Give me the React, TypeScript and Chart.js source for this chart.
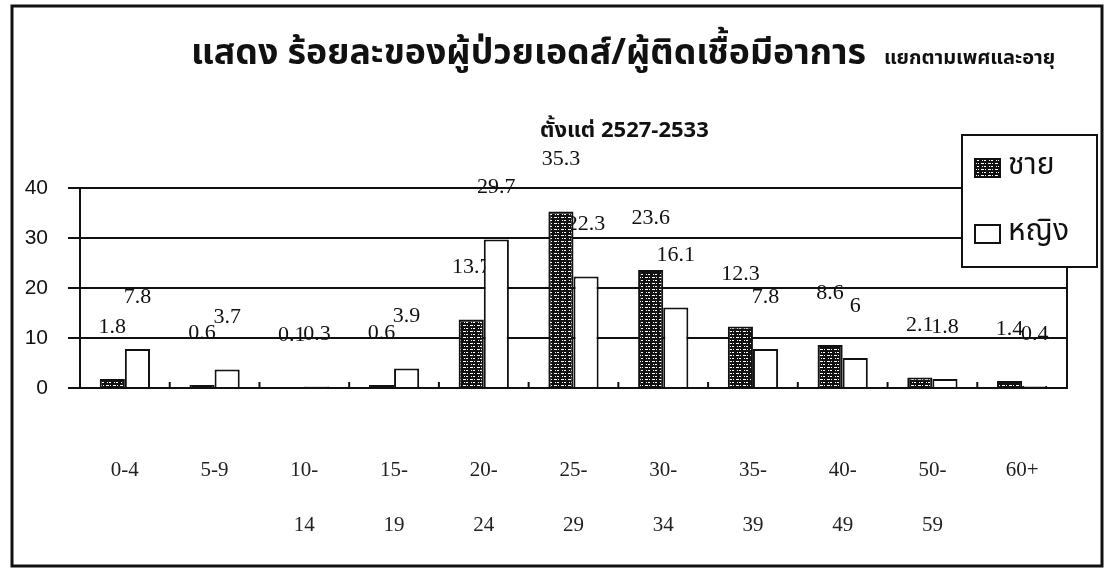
import React, { useEffect, useRef } from "react";
import { Chart, registerables } from "chart.js";

Chart.register(...registerables);

// ---------- data ----------
const ageGroups: (string | string[])[] = [
  "0-4",
  "5-9",
  ["10-", "14"],
  ["15-", "19"],
  ["20-", "24"],
  ["25-", "29"],
  ["30-", "34"],
  ["35-", "39"],
  ["40-", "49"],
  ["50-", "59"],
  "60+",
];
const maleValues = [1.8, 0.6, 0.1, 0.6, 13.7, 35.3, 23.6, 12.3, 8.6, 2.1, 1.4];
const femaleValues = [7.8, 3.7, 0.3, 3.9, 29.7, 22.3, 16.1, 7.8, 6, 1.8, 0.4];
const seriesNames = ["ชาย", "หญิง"];
const yTickValues = [0, 10, 20, 30, 40];
const titleMain = "แสดง ร้อยละของผู้ป่วยเอดส์/ผู้ติดเชื้อมีอาการ";
const titleSide = "แยกตามเพศและอายุ";
const subtitle = "ตั้งแต่ 2527-2533";

const THAI =
  '"Noto Sans Thai", "Noto Sans Thai UI", Loma, Garuda, Norasi, Kinnari, "Tlwg Typo", "DejaVu Sans", sans-serif';
const SERIF = '"Liberation Serif", "DejaVu Serif", serif';
const SANS = '"Liberation Sans", Arial, sans-serif';
const INK = "#111";

function makeHatch(): CanvasPattern | string {
  const c = document.createElement("canvas");
  c.width = 7;
  c.height = 6;
  const g = c.getContext("2d");
  if (!g) return INK;
  g.fillStyle = INK;
  g.fillRect(0, 0, 7, 6);
  g.fillStyle = "#fff";
  g.fillRect(1, 1, 3, 1);
  g.fillRect(5, 1, 1, 1);
  g.fillRect(2, 4, 1, 1);
  g.fillRect(4, 4, 2, 1);
  const p = g.createPattern(c, "repeat");
  return p || INK;
}

const decorPlugin = {
  id: "decor",
  beforeDraw(chart: any) {
    const ctx: CanvasRenderingContext2D = chart.ctx;
    ctx.save();
    ctx.fillStyle = "#fff";
    ctx.fillRect(0, 0, chart.width, chart.height);
    // value labels (drawn beneath grid and bars, as in the scan)
    ctx.font = `22px ${SERIF}`;
    ctx.fillStyle = INK;
    ctx.textAlign = "center";
    ctx.textBaseline = "middle";
    chart.data.datasets.forEach((ds: any, di: number) => {
      const meta = chart.getDatasetMeta(di);
      meta.data.forEach((el: any, i: number) => {
        ctx.fillText(String(ds.data[i]), el.x, el.y - 52);
      });
    });
    ctx.restore();
  },
  afterDatasetsDraw(chart: any) {
    const ctx: CanvasRenderingContext2D = chart.ctx;
    const x = chart.scales.x;
    const area = chart.chartArea;
    ctx.save();
    ctx.strokeStyle = INK;
    ctx.lineWidth = 2;
    for (let i = 1; i < ageGroups.length; i++) {
      const px = (x.getPixelForValue(i - 1) + x.getPixelForValue(i)) / 2;
      ctx.beginPath();
      ctx.moveTo(px, area.bottom - 6);
      ctx.lineTo(px, area.bottom);
      ctx.stroke();
    }
    // right border of plot area
    ctx.beginPath();
    ctx.moveTo(area.right, area.top);
    ctx.lineTo(area.right, area.bottom + 1);
    ctx.stroke();
    ctx.restore();
  },
  afterDraw(chart: any) {
    const ctx: CanvasRenderingContext2D = chart.ctx;
    ctx.save();
    // outer frame
    ctx.strokeStyle = INK;
    ctx.lineWidth = 3;
    ctx.strokeRect(12, 6, 1090, 560);

    // titles
    ctx.fillStyle = INK;
    ctx.textAlign = "left";
    ctx.textBaseline = "alphabetic";
    ctx.font = `bold 36px ${THAI}`;
    ctx.fillText(titleMain, 191, 64, 675);
    ctx.font = `bold 20px ${THAI}`;
    ctx.fillText(titleSide, 884, 64, 209);
    ctx.font = `bold 22px ${THAI}`;
    ctx.fillText(subtitle, 540, 137, 192);

    // legend box
    const lx = 962, ly = 135, lw = 135, lh = 132;
    ctx.lineWidth = 2;
    ctx.fillStyle = "#fff";
    ctx.fillRect(lx, ly, lw, lh);
    ctx.strokeRect(lx, ly, lw, lh);
    const rows = [168, 234];
    chart.data.datasets.forEach((ds: any, i: number) => {
      const cy = rows[i];
      ctx.fillStyle = ds.backgroundColor;
      ctx.fillRect(975, cy - 9, 25, 18);
      ctx.lineWidth = 2;
      ctx.strokeStyle = INK;
      ctx.strokeRect(975, cy - 9, 25, 18);
      ctx.fillStyle = INK;
      ctx.font = `30px ${THAI}`;
      ctx.textBaseline = "middle";
      ctx.fillText(ds.label, 1008, cy, 80);
    });
    ctx.restore();
  },
};

export default function App() {
  const ref = useRef<HTMLCanvasElement | null>(null);

  useEffect(() => {
    document.body.style.margin = "0";
    const canvas = ref.current;
    if (!canvas) return;
    const hatch = makeHatch();
    const chart = new Chart(canvas, {
      type: "bar",
      data: {
        labels: ageGroups,
        datasets: [
          {
            label: seriesNames[0],
            data: maleValues,
            backgroundColor: hatch as any,
            borderColor: INK,
            borderWidth: 2,
          },
          {
            label: seriesNames[1],
            data: femaleValues,
            backgroundColor: "#ffffff",
            borderColor: INK,
            borderWidth: 2,
          },
        ],
      },
      options: {
        animation: false,
        responsive: false,
        events: [],
        layout: { padding: { top: 188, left: 0, right: 42, bottom: 0 } },
        datasets: {
          bar: { categoryPercentage: 0.56, barPercentage: 1.0 },
        },
        plugins: {
          legend: { display: false },
          title: { display: false },
          tooltip: { enabled: false },
        },
        scales: {
          x: {
            grid: { display: false },
            border: { display: true, color: INK, width: 2 },
            ticks: {
              color: "#222",
              font: { family: SERIF, size: 21, lineHeight: "55px" as any },
              padding: 47,
              maxRotation: 0,
              autoSkip: false,
            },
            afterFit(scale: any) {
              scale.height = 189;
            },
          },
          y: {
            min: yTickValues[0],
            max: yTickValues[yTickValues.length - 1],
            ticks: {
              stepSize: yTickValues[1] - yTickValues[0],
              color: INK,
              font: { family: SANS, size: 21 },
              padding: 20,
            },
            grid: {
              color: INK,
              lineWidth: 2,
              tickLength: 12,
              drawTicks: true,
            },
            border: { display: true, color: INK, width: 2 },
            afterFit(scale: any) {
              scale.width = 80;
            },
          },
        },
      },
      plugins: [decorPlugin],
    });
    return () => chart.destroy();
  }, []);

  return (
    <div style={{ width: 1109, height: 577 }}>
      <canvas ref={ref} width={1109} height={577} style={{ display: "block" }} />
    </div>
  );
}
